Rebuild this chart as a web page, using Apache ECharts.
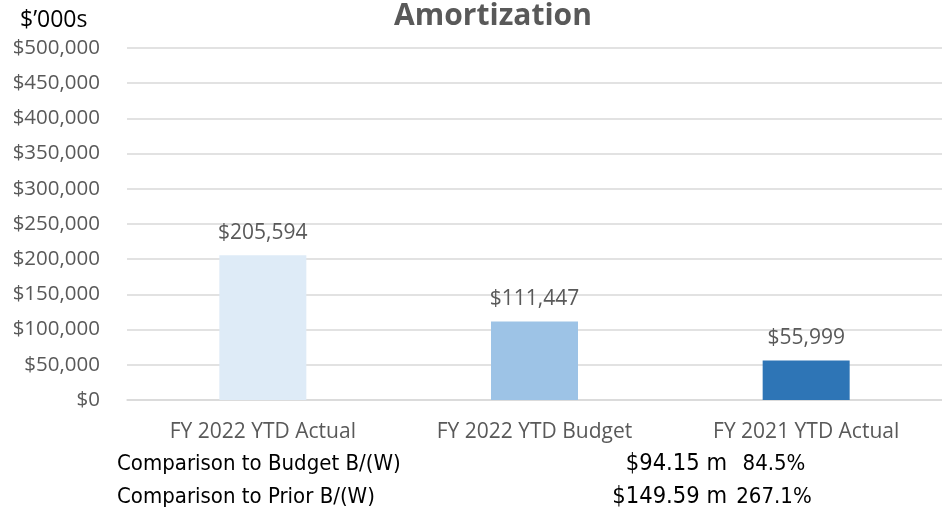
<!DOCTYPE html>
<html>
<head>
<meta charset="utf-8">
<script src="https://cdn.jsdelivr.net/npm/echarts@6/dist/echarts.min.js"></script>
<style>
  html, body { margin: 0; padding: 0; background: #fff; }
  #chart { width: 942px; height: 510px; }
</style>
</head>
<body>
<div id="chart"></div>
<script>
const categories = ['FY 2022 YTD Actual', 'FY 2022 YTD Budget', 'FY 2021 YTD Actual'];
const values = [205594, 111447, 55999];
const barColors = ['#DEEBF7', '#9DC3E6', '#2E75B6'];
const yTicks = { min: 0, max: 500000, interval: 50000 };

// comparison rows under the chart
const compLabels = ['Comparison to Budget B/(W)', 'Comparison to Prior B/(W)'];
const compAmounts = ['$94.15 m', '$149.59 m'];
const compPercents = ['84.5%', '267.1%'];

const money = v => '$' + v.toLocaleString('en-US');
const grey = '#595959';
const font = 'Open Sans';
const narrow = '"Liberation Sans Narrow", "DejaVu Sans Condensed", sans-serif';

const chart = echarts.init(document.getElementById('chart'));

const rows = [];
compLabels.forEach((lbl, i) => {
  const y = 464 + i * 33;
  const st = { font: '22px ' + narrow, fill: '#000', textVerticalAlign: 'middle' };
  rows.push(
    { type: 'text', style: Object.assign({ text: lbl, x: 117, y: y, textAlign: 'left' }, st) },
    { type: 'text', style: Object.assign({ text: compAmounts[i], x: 727, y: y, textAlign: 'right' }, st, { font: '23.5px ' + narrow }) },
    { type: 'text', style: Object.assign({ text: compPercents[i], x: 774, y: y, textAlign: 'center' }, st) }
  );
});

chart.setOption({
  animation: false,
  // gridlines start at x=125, the plot runs off the right edge
  grid: { left: 127, right: 0, top: 48, height: 352, containLabel: false },
  xAxis: {
    type: 'category',
    data: categories,
    axisTick: { show: false },
    axisLine: { lineStyle: { color: '#D9D9D9', width: 1.5 } },
    axisLabel: { color: grey, fontFamily: font, fontSize: 21, margin: 22 }
  },
  yAxis: {
    type: 'value',
    min: yTicks.min,
    max: yTicks.max,
    interval: yTicks.interval,
    axisLine: { show: false },
    axisTick: { show: false },
    splitLine: { lineStyle: { color: '#D9D9D9', width: 1.5 } },
    axisLabel: { color: grey, fontFamily: font, fontSize: 20.5, margin: 27, formatter: money }
  },
  graphic: [
    { type: 'text', style: { text: 'Amortization', x: 493, y: 16, textAlign: 'center', textVerticalAlign: 'middle', font: 'bold 30px ' + font, fill: grey } },
    { type: 'text', style: { text: '$\u2019000s', x: 20, y: 20, textVerticalAlign: 'middle', font: '23px ' + font, fill: '#000' } }
  ].concat(rows),
  series: [{
    type: 'bar',
    barWidth: 87,
    data: values.map((v, i) => ({ value: v, itemStyle: { color: barColors[i] } })),
    label: {
      show: true,
      position: 'top',
      distance: 12,
      color: grey,
      fontFamily: font,
      fontSize: 21,
      formatter: p => money(p.value)
    }
  }]
});
</script>
</body>
</html>
